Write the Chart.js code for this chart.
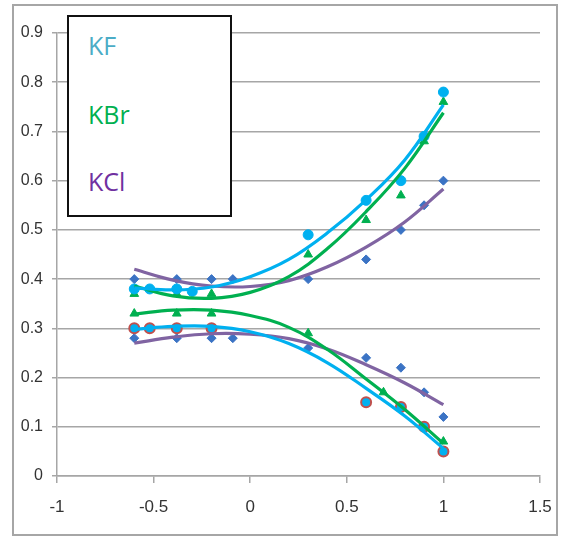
<!DOCTYPE html>
<html>
<head>
<meta charset="utf-8">
<script src="https://cdn.jsdelivr.net/npm/chart.js@4/dist/chart.umd.min.js"></script>
<style>
  html, body { margin: 0; padding: 0; background: #fff; }
  #wrap { position: relative; width: 568px; height: 541px; overflow: hidden; }
  #frame { position: absolute; left: 12px; top: 4px; width: 546px; height: 532px; border: 2px solid #a6a6a6; box-sizing: border-box; }
  canvas { position: absolute; left: 0; top: 0; }
  #legend { position: absolute; left: 67px; top: 15px; width: 165px; height: 202px; border: 2px solid #111; box-sizing: border-box; background: #fff; }
  .lg { position: absolute; font-family: "Open Sans", "Noto Sans", sans-serif; font-size: 25px; line-height: 25px; white-space: nowrap; }
</style>
</head>
<body>
<div id="wrap">
  <div id="frame"></div>
  <canvas id="c" width="568" height="541"></canvas>
  <div id="legend">
    <span class="lg" style="left:19px; top:16px; color:#4BACC6;">KF</span>
    <span class="lg" style="left:19px; top:85px; color:#00B050;">KBr</span>
    <span class="lg" style="left:19px; top:152px; color:#7030A0;">KCl</span>
  </div>
</div>
<script>
// ---- Data ----
const xTicks = [-1, -0.5, 0, 0.5, 1, 1.5];
const xTickLabels = ['-1', '-0.5', '0', '0.5', '1', '1.5'];
const yTicks = [0, 0.1, 0.2, 0.3, 0.4, 0.5, 0.6, 0.7, 0.8, 0.9];
const yTickLabels = ['0', '0.1', '0.2', '0.3', '0.4', '0.5', '0.6', '0.7', '0.8', '0.9'];

// KF (circles)
const kfHighX = [-0.6, -0.52, -0.38, -0.3, 0.3, 0.6, 0.78, 0.9, 1.0];
const kfHighY = [0.38, 0.38, 0.38, 0.375, 0.49, 0.56, 0.60, 0.69, 0.78];
const kfLowX  = [-0.6, -0.52, -0.38, -0.2, 0.6, 0.78, 0.9, 1.0];
const kfLowY  = [0.30, 0.30, 0.30, 0.30, 0.15, 0.14, 0.10, 0.05];

// KBr (triangles)
const kbrHighX = [-0.6, -0.38, -0.2, 0.3, 0.6, 0.78, 0.9, 1.0];
const kbrHighY = [0.37, 0.37, 0.37, 0.45, 0.52, 0.57, 0.68, 0.76];
const kbrLowX  = [-0.6, -0.38, -0.2, 0.3, 0.69, 0.9, 1.0];
const kbrLowY  = [0.33, 0.33, 0.33, 0.29, 0.17, 0.10, 0.07];

// KCl (diamonds)
const kclHighX = [-0.6, -0.38, -0.2, -0.09, 0.3, 0.6, 0.78, 0.9, 1.0];
const kclHighY = [0.40, 0.40, 0.40, 0.40, 0.40, 0.44, 0.50, 0.55, 0.60];
const kclLowX  = [-0.6, -0.38, -0.2, -0.09, 0.3, 0.6, 0.78, 0.9, 1.0];
const kclLowY  = [0.28, 0.28, 0.28, 0.28, 0.26, 0.24, 0.22, 0.17, 0.12];

// Trend lines
const trendX = [-0.6, -0.4, -0.2, 0, 0.2, 0.4, 0.6, 0.8, 1.0];
const kfHighTrend  = [0.382, 0.378, 0.384, 0.405, 0.440, 0.494, 0.561, 0.642, 0.754];
const kfLowTrend   = [0.298, 0.304, 0.304, 0.293, 0.269, 0.230, 0.178, 0.122, 0.056];
const kbrHighTrend = [0.386, 0.366, 0.361, 0.373, 0.405, 0.462, 0.537, 0.625, 0.738];
const kbrLowTrend  = [0.329, 0.337, 0.337, 0.326, 0.302, 0.257, 0.197, 0.135, 0.066];
const kclHighTrend = [0.420, 0.398, 0.386, 0.385, 0.397, 0.425, 0.465, 0.516, 0.583];
const kclLowTrend  = [0.270, 0.282, 0.289, 0.288, 0.279, 0.258, 0.226, 0.189, 0.145];

// ---- Build chart ----
const pts = (xs, ys) => xs.map((x, i) => ({ x: x, y: ys[i] }));

const COL_KF = '#00B0F0', COL_KBR = '#00B050', COL_KCL = '#8064A2';
const COL_DIAMOND = '#3B73C4', COL_RED = '#C0504D';

function trend(ys, color) {
  return {
    type: 'line', data: pts(trendX, ys), borderColor: color, borderWidth: 3.2,
    pointRadius: 0, showLine: true, fill: false, tension: 0.4
  };
}
function markers(xs, ys, style, fillColor, borderColor, bw, r) {
  return {
    type: 'scatter', data: pts(xs, ys), showLine: false, pointStyle: style,
    pointRadius: r, backgroundColor: fillColor, borderColor: borderColor, pointBorderWidth: bw
  };
}

const gridCol = '#a6a6a6';
const tickFont = "'Liberation Sans', Arial, sans-serif";

new Chart(document.getElementById('c'), {
  type: 'scatter',
  data: {
    datasets: [
      trend(kfHighTrend, COL_KF),
      trend(kbrHighTrend, COL_KBR),
      trend(kclHighTrend, COL_KCL),
      trend(kfLowTrend, COL_KF),
      trend(kbrLowTrend, COL_KBR),
      trend(kclLowTrend, COL_KCL),
      markers(kfHighX, kfHighY, 'circle', COL_KF, COL_KF, 1, 5),
      markers(kfLowX, kfLowY, 'circle', COL_KF, COL_RED, 2, 5),
      markers(kbrHighX, kbrHighY, 'triangle', COL_KBR, COL_KBR, 1, 5),
      markers(kbrLowX, kbrLowY, 'triangle', COL_KBR, COL_KBR, 1, 5),
      markers(kclHighX, kclHighY, 'rectRot', COL_DIAMOND, COL_DIAMOND, 1, 4.5),
      markers(kclLowX, kclLowY, 'rectRot', COL_DIAMOND, COL_DIAMOND, 1, 4.5)
    ]
  },
  options: {
    responsive: false,
    animation: false,
    devicePixelRatio: 1,
    layout: { padding: { top: 33, right: 28, left: 0, bottom: 0 } },
    plugins: { legend: { display: false }, tooltip: { enabled: false } },
    scales: {
      x: {
        type: 'linear', min: xTicks[0], max: xTicks[xTicks.length - 1],
        afterBuildTicks: s => { s.ticks = xTicks.map(v => ({ value: v })); },
        afterFit: s => { s.height = 65; },
        grid: { drawOnChartArea: false, drawTicks: true, tickLength: 7, color: gridCol, lineWidth: 1.5 },
        border: { display: true, color: gridCol, width: 1.5 },
        ticks: { padding: 14, color: '#333', font: { family: tickFont, size: 17 },
                 callback: (v, i) => xTickLabels[i] }
      },
      y: {
        type: 'linear', min: yTicks[0], max: yTicks[yTicks.length - 1],
        afterBuildTicks: s => { s.ticks = yTicks.map(v => ({ value: v })); },
        afterFit: s => { s.width = 57; },
        grid: { drawOnChartArea: true, drawTicks: true, tickLength: 5, color: gridCol, lineWidth: 1.5 },
        border: { display: true, color: gridCol, width: 1.5 },
        ticks: { padding: 9, color: '#333', font: { family: tickFont, size: 16 },
                 callback: (v, i) => yTickLabels[i] }
      }
    }
  }
});
</script>
</body>
</html>
